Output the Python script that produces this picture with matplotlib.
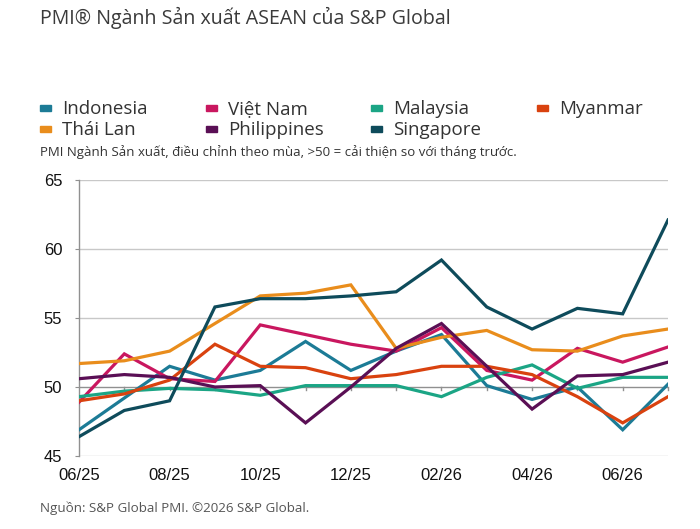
import matplotlib
matplotlib.use("Agg")
import matplotlib.pyplot as plt
from matplotlib.patches import Rectangle

months = ["06/25", "07/25", "08/25", "09/25", "10/25", "11/25", "12/25",
          "01/26", "02/26", "03/26", "04/26", "05/26", "06/26", "07/26"]

indonesia   = [46.9, 49.2, 51.5, 50.5, 51.2, 53.3, 51.2, 52.6, 53.8, 50.1, 49.1, 50.0, 46.9, 50.2]
vietnam     = [48.9, 52.4, 50.6, 50.4, 54.5, 53.8, 53.1, 52.6, 54.3, 51.2, 50.5, 52.8, 51.8, 52.9]
malaysia    = [49.3, 49.7, 49.9, 49.8, 49.4, 50.1, 50.1, 50.1, 49.3, 50.7, 51.6, 49.9, 50.7, 50.7]
myanmar     = [49.0, 49.5, 50.5, 53.1, 51.5, 51.4, 50.6, 50.9, 51.5, 51.5, 50.9, 49.3, 47.4, 49.3]
thailand    = [51.7, 51.9, 52.6, 54.6, 56.6, 56.8, 57.4, 52.8, 53.6, 54.1, 52.7, 52.6, 53.7, 54.2]
philippines = [50.6, 50.9, 50.7, 50.0, 50.1, 47.4, 50.0, 52.8, 54.6, 51.5, 48.4, 50.8, 50.9, 51.8]
singapore   = [46.4, 48.3, 49.0, 55.8, 56.4, 56.4, 56.6, 56.9, 59.2, 55.8, 54.2, 55.7, 55.3, 62.1]

names = ["Indonesia", "Việt Nam", "Malaysia", "Myanmar", "Thái Lan", "Philippines", "Singapore"]
series = [indonesia, vietnam, malaysia, myanmar, thailand, philippines, singapore]
colors = ["#1c7b96", "#c9175f", "#1ba585", "#d9420f", "#e98d1c", "#5a0f55", "#0e4b5b"]

title = "PMI® Ngành Sản xuất ASEAN của S&P Global"
subtitle = "PMI Ngành Sản xuất, điều chỉnh theo mùa, >50 = cải thiện so với tháng trước."
source = "Nguồn: S&P Global PMI. ©2026 S&P Global."

W, H = 700, 529
fig = plt.figure(figsize=(7, 5.29), dpi=100)
ax = fig.add_axes([79 / W, 1 - 456 / H, (668 - 79) / W, (456 - 180) / H])

x = list(range(len(months)))
# draw order: back to front roughly as in reference
for i in [2, 3, 4, 0, 1, 5, 6]:
    ax.plot(x, series[i], color=colors[i], lw=2.3, solid_joinstyle="miter", zorder=3 + i * 0.1)

ax.set_xlim(0, len(months) - 1)
ax.set_ylim(45, 65)
ax.set_yticks([45, 50, 55, 60, 65])
for v in [55, 60, 65]:
    ax.axhline(v, color="#c8c8c8", lw=1.0, zorder=1)
ax.axhline(45, color="#d0d0d0", lw=1.0, zorder=1)
ax.axhline(50, color="#909090", lw=1.0, zorder=2)

for s in ["top", "right", "bottom"]:
    ax.spines[s].set_visible(False)
ax.spines["left"].set_color("#909090")
ax.spines["left"].set_linewidth(1.0)

ax.set_xticks(x[::2])
ax.set_xticklabels(months[::2])
ax.tick_params(axis="x", length=0, pad=9, labelsize=12, labelcolor="#111111")
ax.tick_params(axis="y", length=3, color="#909090", pad=9, labelsize=12, labelcolor="#111111")
for lab in ax.get_xticklabels() + ax.get_yticklabels():
    lab.set_family("Liberation Sans")

# monthly tick marks on the 50 line
for xi in x[1:]:
    ax.plot([xi, xi], [50, 49.75], color="#909090", lw=1.0, zorder=2, clip_on=False)

fig.text(40 / W, 1 - 18 / H, title, fontsize=14.1, family="Open Sans", color="#3a3a3a",
         va="center", ha="left")

col_x = [40, 206, 371, 537]
row_y = [108, 129]
for k, name in enumerate(names):
    cx = col_x[k % 4]
    cy = row_y[k // 4]
    fig.patches.append(Rectangle((cx / W, 1 - (cy + 3) / H), 11 / W, 6 / H,
                                 transform=fig.transFigure, color=colors[k]))
    fig.text((cx + 22) / W, 1 - (cy + 1) / H, name, fontsize=13.5, family="Open Sans",
             color="#333333", va="center", ha="left")

fig.text(40 / W, 1 - 152 / H, subtitle, fontsize=9.5, family="Open Sans", color="#333333",
         va="center", ha="left")
fig.text(40 / W, 1 - 508 / H, source, fontsize=9.6, family="Open Sans", color="#555555",
         va="center", ha="left")

fig.savefig("out.png", dpi=100)
